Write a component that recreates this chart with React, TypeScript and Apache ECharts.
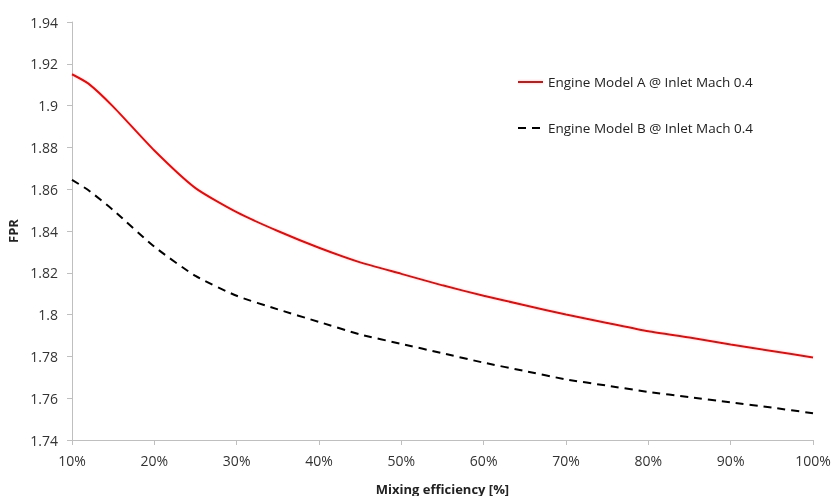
import React, { useEffect, useRef } from "react";
import * as echarts from "echarts";

const mixing = [10, 12, 15, 20, 25, 30, 35, 40, 45, 50, 55, 60, 65, 70, 75, 80, 85, 90, 95, 100];
const engineA = [1.915, 1.9105, 1.8995, 1.8785, 1.8605, 1.849, 1.840, 1.832, 1.825, 1.8195, 1.814, 1.809, 1.8045, 1.800, 1.796, 1.792, 1.789, 1.7857, 1.7826, 1.7795];
const engineB = [1.8645, 1.8595, 1.850, 1.8325, 1.8185, 1.809, 1.8025, 1.7965, 1.7905, 1.786, 1.7815, 1.777, 1.773, 1.769, 1.766, 1.763, 1.7605, 1.758, 1.7555, 1.7528];

const nameA = "Engine Model A @ Inlet Mach 0.4";
const nameB = "Engine Model B @ Inlet Mach 0.4";

export default function App() {
  const ref = useRef<HTMLDivElement>(null);
  useEffect(() => {
    const chart = echarts.init(ref.current!, null, { renderer: "svg" });
    const font = "'Open Sans', 'Noto Sans', sans-serif";
    chart.setOption({
      animation: false,
      textStyle: { fontFamily: font },
      grid: { left: 72, right: 18, top: 22, bottom: 56, outerBoundsMode: "none", containLabel: false },
      legend: {
        orient: "vertical",
        left: 512,
        top: 70,
        itemWidth: 25,
        itemHeight: 14,
        itemGap: 32,
        itemStyle: { opacity: 0 },
        textStyle: { fontSize: 13.5, color: "#222", fontFamily: font },
        data: [nameA, nameB],
      },
      xAxis: {
        type: "value",
        min: 10,
        max: 100,
        interval: 10,
        name: "Mixing efficiency [%]",
        nameLocation: "middle",
        nameGap: 42,
        nameTextStyle: { fontSize: 13, fontWeight: "bold", color: "#222", fontFamily: font },
        axisLine: { lineStyle: { color: "#bfbfbf" } },
        axisTick: { show: true, length: 5, lineStyle: { color: "#bfbfbf" } },
        axisLabel: { formatter: "{value}%", fontSize: 14, color: "#333", margin: 13 },
        splitLine: { show: false },
      },
      yAxis: {
        type: "value",
        min: 1.74,
        max: 1.94,
        interval: 0.02,
        name: "FPR",
        nameLocation: "middle",
        nameGap: 45,
        nameTextStyle: { fontSize: 13, fontWeight: "bold", color: "#222", fontFamily: font },
        axisLine: { show: true, lineStyle: { color: "#bfbfbf" } },
        axisTick: { show: true, length: 5, lineStyle: { color: "#bfbfbf" } },
        axisLabel: { fontSize: 14, color: "#333", margin: 14 },
        splitLine: { show: false },
      },
      series: [
        {
          name: nameA,
          type: "line",
          smooth: 0.2,
          symbol: "none",
          lineStyle: { color: "#ff0000", width: 2 },
          itemStyle: { color: "#ff0000" },
          data: mixing.map((x, i) => [x, engineA[i]]),
        },
        {
          name: nameB,
          type: "line",
          smooth: 0.2,
          symbol: "none",
          lineStyle: { color: "#000000", width: 2, type: [8, 6] },
          itemStyle: { color: "#000000" },
          data: mixing.map((x, i) => [x, engineB[i]]),
        },
      ],
    });
    return () => chart.dispose();
  }, []);
  return (
    <div
      ref={ref}
      style={{ position: "fixed", left: 0, top: 0, width: 831, height: 496 }}
    />
  );
}
